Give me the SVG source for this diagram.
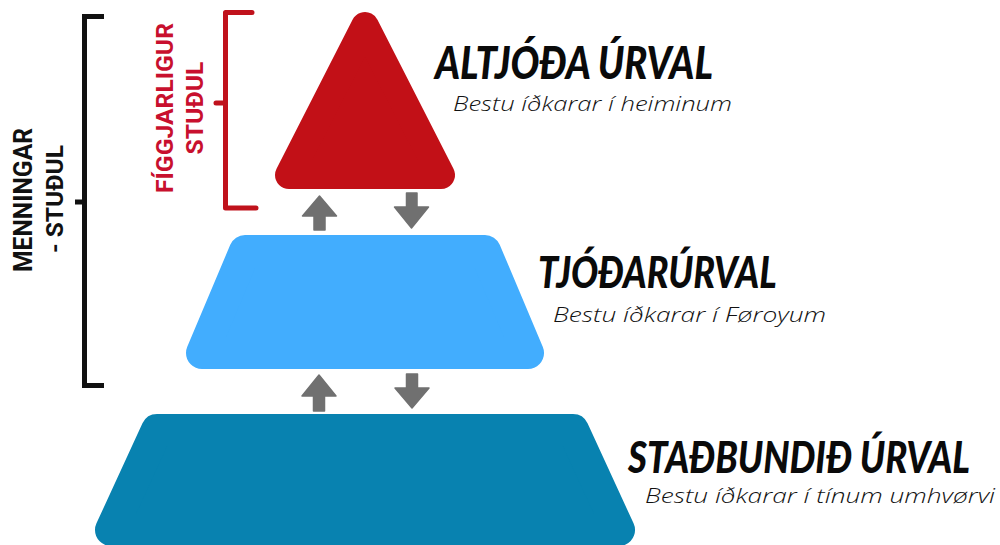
<svg xmlns="http://www.w3.org/2000/svg" width="1000" height="545" viewBox="0 0 1000 545">
<style>
.title{font-family:Lato,"Liberation Sans",sans-serif;font-weight:900;font-style:italic;fill:#0a0a0a}
.sub{font-family:"Open Sans","Liberation Sans",sans-serif;font-style:italic;font-weight:300;font-size:21px;fill:#111}
.side{font-family:Roboto,"Liberation Sans",sans-serif;font-weight:700;text-anchor:middle}
.arrow{fill:#707070;stroke:#707070;stroke-width:1.5;stroke-linejoin:round}
</style>
<rect width="1000" height="545" fill="#ffffff"/>

<g id="bracket-menning">
<path d="M104,16.5 H84.5 V385.5 H104 M75,202 H84.5" fill="none" stroke="#111" stroke-width="5"/>
<text class="side" font-size="25" fill="#111" transform="translate(32,200) rotate(-90)" textLength="144" lengthAdjust="spacingAndGlyphs">MENNINGAR</text>
<text class="side" font-size="23" fill="#111" transform="translate(63,199) rotate(-90)" textLength="108" lengthAdjust="spacingAndGlyphs">- STUÐUL</text>
</g>

<g id="bracket-figgjar">
<path d="M252,12.5 H225.5 V208 H256 M216,103 H225.5" fill="none" stroke="#c0121c" stroke-width="5" stroke-linecap="round" stroke-linejoin="round"/>
<text class="side" font-size="23" fill="#c8102e" transform="translate(173,108) rotate(-90)" textLength="170" lengthAdjust="spacingAndGlyphs">FÍGGJARLIGUR</text>
<text class="side" font-size="23" fill="#c8102e" transform="translate(203,108) rotate(-90)" textLength="93" lengthAdjust="spacingAndGlyphs">STUÐUL</text>
</g>

<g id="node-altjoda">
<path d="M365,26 L441,175 L289,175 Z" fill="#c21017" stroke="#c21017" stroke-width="28" stroke-linejoin="round"/>
<text class="title" transform="translate(435,79) scale(0.82,1)" font-size="45" textLength="339" lengthAdjust="spacingAndGlyphs">ALTJÓÐA ÚRVAL</text>
<text class="sub" x="453" y="111" textLength="279" lengthAdjust="spacingAndGlyphs">Bestu íðkarar í heiminum</text>
</g>

<g id="node-tjodar">
<path d="M245,251 L485,251 L528,353 L202,353 Z" fill="#42adfe" stroke="#42adfe" stroke-width="32" stroke-linejoin="round"/>
<text class="title" transform="translate(538,288) scale(0.82,1)" font-size="43" textLength="291" lengthAdjust="spacingAndGlyphs">TJÓÐARÚRVAL</text>
<text class="sub" x="553" y="322" textLength="273" lengthAdjust="spacingAndGlyphs">Bestu íðkarar í Føroyum</text>
</g>

<g id="node-stadbundid">
<path d="M157,430 L573,430 L619,530 L111,530 Z" fill="#0882b0" stroke="#0882b0" stroke-width="32" stroke-linejoin="round"/>
<text class="title" transform="translate(628,473) scale(0.82,1)" font-size="44" textLength="417" lengthAdjust="spacingAndGlyphs">STAÐBUNDIÐ ÚRVAL</text>
<text class="sub" x="645" y="503" textLength="350" lengthAdjust="spacingAndGlyphs">Bestu íðkarar í tínum umhvørvi</text>
</g>

<g id="connectors">
<path class="arrow" d="M319.5,196 L336.5,216 L325,216 L325,230 L314,230 L314,216 L302.5,216 Z"/>
<path class="arrow" d="M406.5,193 L417,193 L417,207 L428.5,207 L411.5,228 L394.5,207 L406.5,207 Z"/>
<path class="arrow" d="M319,375 L336,396 L324.5,396 L324.5,411 L313.5,411 L313.5,396 L302,396 Z"/>
<path class="arrow" d="M406.5,374 L417.5,374 L417.5,388 L429,388 L412,408 L395,388 L406.5,388 Z"/>
</g>
</svg>
